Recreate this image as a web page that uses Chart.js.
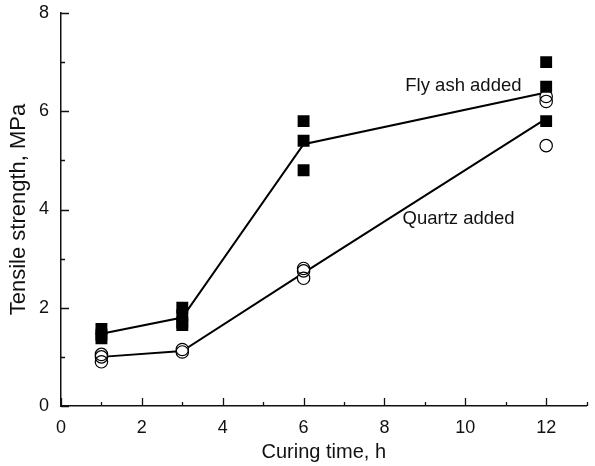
<!DOCTYPE html>
<html>
<head>
<meta charset="utf-8">
<script src="https://cdn.jsdelivr.net/npm/chart.js@4.4.1/dist/chart.umd.min.js"></script>
<style>
  html, body { margin: 0; padding: 0; background: #ffffff; }
  #wrap { width: 595px; height: 466px; }
</style>
</head>
<body>
<div id="wrap"><canvas id="c" width="595" height="466"></canvas></div>
<script>
// Curing times (h) and measured tensile strength (MPa) of individual specimens
const curingTimes = [1, 3, 6, 12];
const flyAshSpecimens = [[1.57, 1.45, 1.38], [2.0, 1.85, 1.7, 1.65], [5.8, 5.4, 4.8], [7.0, 6.5, 5.8]];
const quartzSpecimens = [[1.05, 1.0, 0.9], [1.15, 1.1], [2.8, 2.75, 2.6], [6.3, 6.2, 5.3]];

// Trend lines through each curing time
const flyAshTrend = [1.47, 1.8, 5.33, 6.38];
const quartzTrend = [1.0, 1.12, 2.71, 5.85];

// Axis ticks
const xTickValues = [0, 2, 4, 6, 8, 10, 12];
const yTickValues = [0, 2, 4, 6, 8];

const seriesNames = ['Fly ash added', 'Quartz added'];
const axisTitles = { x: 'Curing time, h', y: 'Tensile strength, MPa' };

// Where the series names end, in axis units (right edge of text, middle)
const nameAnchors = [{ x: 11.39, y: 6.52 }, { x: 11.22, y: 3.81 }];

const FONT = '"Liberation Sans", Arial, Helvetica, sans-serif';
const INK = '#111111';

function specimenPoints(groups) {
  const pts = [];
  groups.forEach((vals, i) => vals.forEach(v => pts.push({ x: curingTimes[i], y: v })));
  return pts;
}
function trendPoints(vals) {
  return vals.map((v, i) => ({ x: curingTimes[i], y: v }));
}

// Tick marks pointing into the plot: long at labelled values, short in between
const inwardTicks = {
  id: 'inwardTicks',
  afterDatasetsDraw(chart) {
    const { ctx, chartArea: a, scales: { x, y } } = chart;
    ctx.save();
    ctx.strokeStyle = INK;
    ctx.lineWidth = 1.3;
    ctx.beginPath();
    for (let v = x.min; v <= x.max; v++) {
      const px = Math.round(x.getPixelForValue(v)) + 0.5;
      const len = v % 2 === 0 ? 8 : 4;
      ctx.moveTo(px, a.bottom);
      ctx.lineTo(px, a.bottom - len);
    }
    for (let v = y.min; v <= y.max; v++) {
      const py = Math.round(y.getPixelForValue(v)) + 0.5;
      const len = v % 2 === 0 ? 8 : 4;
      ctx.moveTo(a.left, py);
      ctx.lineTo(a.left + len, py);
    }
    ctx.stroke();
    ctx.restore();
  }
};

// Series names written next to their curves
const seriesNameLabels = {
  id: 'seriesNameLabels',
  afterDatasetsDraw(chart) {
    const { ctx, scales: { x, y } } = chart;
    ctx.save();
    ctx.fillStyle = INK;
    ctx.font = '18.5px ' + FONT;
    ctx.textAlign = 'right';
    ctx.textBaseline = 'middle';
    seriesNames.forEach((name, i) => {
      const p = nameAnchors[i];
      ctx.fillText(name, x.getPixelForValue(p.x), y.getPixelForValue(p.y));
    });
    ctx.restore();
  }
};

new Chart(document.getElementById('c'), {
  type: 'scatter',
  data: {
    datasets: [
      {
        label: seriesNames[0],
        data: specimenPoints(flyAshSpecimens),
        pointStyle: 'rect',
        pointRadius: 8.4,
        backgroundColor: '#000000',
        borderColor: '#000000',
        borderWidth: 0,
        order: 0
      },
      {
        label: seriesNames[1],
        data: specimenPoints(quartzSpecimens),
        pointStyle: 'circle',
        pointRadius: 6.2,
        backgroundColor: 'rgba(0,0,0,0)',
        borderColor: '#000000',
        borderWidth: 1.2,
        order: 1
      },
      {
        label: seriesNames[1] + ' fill',
        data: specimenPoints(quartzSpecimens),
        pointStyle: 'circle',
        pointRadius: 6.2,
        backgroundColor: '#ffffff',
        borderWidth: 0,
        order: 2
      },
      {
        type: 'line',
        label: seriesNames[0] + ' trend',
        data: trendPoints(flyAshTrend),
        borderColor: '#000000',
        borderWidth: 2,
        pointRadius: 0,
        fill: false,
        tension: 0,
        order: 3
      },
      {
        type: 'line',
        label: seriesNames[1] + ' trend',
        data: trendPoints(quartzTrend),
        borderColor: '#000000',
        borderWidth: 2,
        pointRadius: 0,
        fill: false,
        tension: 0,
        order: 3
      }
    ]
  },
  options: {
    responsive: false,
    animation: false,
    events: [],
    layout: { padding: { left: 0, right: 0, top: 0, bottom: 0 } },
    plugins: {
      legend: { display: false },
      tooltip: { enabled: false }
    },
    scales: {
      x: {
        type: 'linear',
        min: 0,
        max: 13,
        afterBuildTicks: s => { s.ticks = xTickValues.map(v => ({ value: v })); },
        afterFit: s => { s.height = 60; s.paddingRight = 0; },
        grid: { display: false },
        border: { display: true, color: INK, width: 1.5 },
        ticks: { color: INK, font: { family: FONT, size: 18, lineHeight: 1 }, padding: 5, maxRotation: 0 },
        title: { display: true, text: axisTitles.x, color: INK, font: { family: FONT, size: 20 }, padding: { top: 0, bottom: 2 } }
      },
      y: {
        type: 'linear',
        min: 0,
        max: 8,
        afterBuildTicks: s => { s.ticks = yTickValues.map(v => ({ value: v })); },
        afterFit: s => { s.width = 61; },
        grid: { display: false },
        border: { display: true, color: INK, width: 1.5 },
        ticks: { color: INK, font: { family: FONT, size: 18, lineHeight: 1 }, padding: 4 },
        title: { display: true, text: axisTitles.y, color: INK, font: { family: FONT, size: 22 }, padding: { top: 6, bottom: 0 } }
      }
    }
  },
  plugins: [inwardTicks, seriesNameLabels]
});
</script>
</body>
</html>
